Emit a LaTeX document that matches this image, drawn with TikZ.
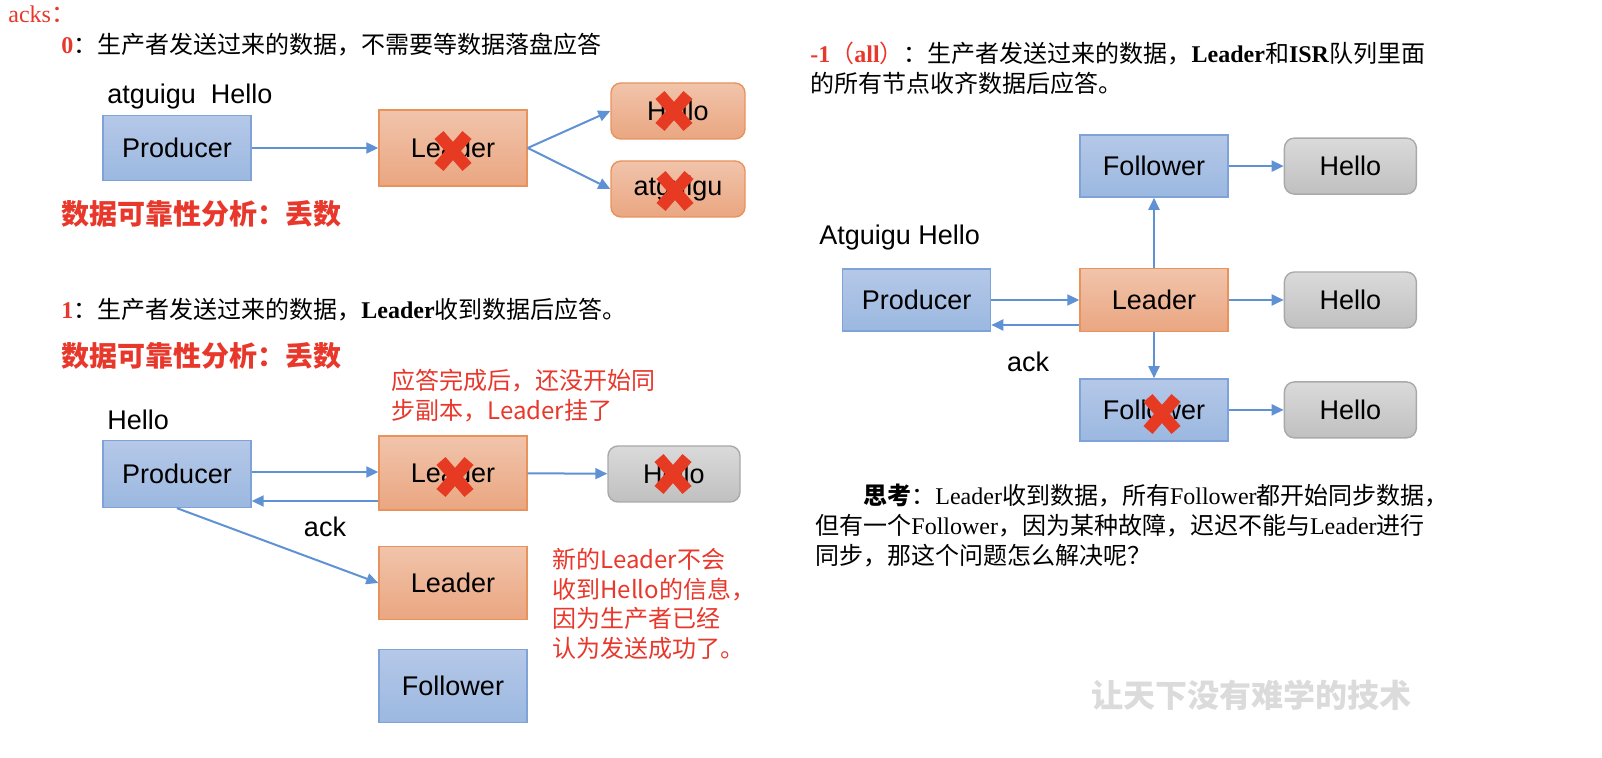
\documentclass[tikz,border=0pt]{standalone}
\usepackage{fontspec}
\setmainfont{Noto Sans CJK SC}
\newfontfamily\arl{Liberation Sans}
\newfontfamily\tnr{Liberation Serif}
\usepackage{xcolor}
\usetikzlibrary{positioning,arrows.meta,shapes.misc}

\definecolor{boxblueT}{HTML}{B5C8E8}
\definecolor{boxblueB}{HTML}{9BB8E0}
\definecolor{blueline}{HTML}{7FA3D8}
\definecolor{orangeT}{HTML}{F1C4AB}
\definecolor{orangeB}{HTML}{EAA681}
\definecolor{orangeline}{HTML}{E9935C}
\definecolor{grayT}{HTML}{DADADA}
\definecolor{grayB}{HTML}{C0C0C0}
\definecolor{grayline}{HTML}{A9A9A9}
\definecolor{arrowblue}{HTML}{5F92D4}
\definecolor{noteRed}{HTML}{E8372B}
\definecolor{crossRed}{HTML}{E63A23}

\begin{document}
\begin{tikzpicture}[x=0.5pt, y=-0.5pt,
    bluebox/.style={draw=blueline,line width=0.7pt,top color=boxblueT,bottom color=boxblueB,minimum width=74pt,minimum height=31pt,font=\arl\fontsize{13.5}{16}\selectfont},
    orangebox/.style={draw=orangeline,line width=0.7pt,top color=orangeT,bottom color=orangeB,minimum width=74pt,minimum height=37pt,font=\arl\fontsize{13.5}{16}\selectfont},
    orangeround/.style={orangebox,rounded corners=5pt,minimum width=67pt,minimum height=28pt},
    graybox/.style={draw=grayline,line width=0.7pt,top color=grayT,bottom color=grayB,rounded corners=5pt,minimum width=66pt,minimum height=28pt,font=\arl\fontsize{13.5}{16}\selectfont},
    lbl/.style={inner sep=0pt,font=\arl\fontsize{13.5}{16}\selectfont},
    head/.style={inner sep=0pt,anchor=west,font=\fontsize{12}{15}\selectfont},
    loss/.style={inner sep=0pt,anchor=west,text=noteRed,font=\bfseries\fontsize{14}{17}\selectfont},
    note/.style={inner sep=0pt,anchor=north west,align=left,text=noteRed,font=\fontsize{12}{14.8}\selectfont},
    crossx/.style={cross out,draw=crossRed,line width=6pt,minimum width=14pt,minimum height=16pt,inner sep=0pt,outer sep=0pt},
    flow/.style={draw=arrowblue,line width=1pt,-{Triangle[length=6pt,width=5.5pt]}},
    slogan/.style={inner sep=0pt,text=black!14,font=\bfseries\fontsize{16}{18}\selectfont}]
\useasboundingbox (0,0) rectangle (1602,758);

% acks = 0
\node[head,text=noteRed] (acks) at (8,14) {{\tnr acks}：};
\node[head] (h0) at (61,45) {\textcolor{noteRed}{\tnr\bfseries 0}：生产者发送过来的数据，不需要等数据落盘应答};
\node[lbl,anchor=west] (msg0) at (107,97) {atguigu\ \ Hello};
\node[bluebox,minimum height=32.5pt] (prod0) at (177,148) {Producer};
\node[orangebox,minimum height=38pt] (lead0) at (453,148) {Leader};
\node[orangeround] (hello0) at (678,111) {Hello};
\node[orangeround] (atg0) at (678,189) {atguigu};
\node[loss] (loss0) at (61,214) {数据可靠性分析：丢数};
\draw[flow] (prod0) -- (lead0);
\draw[flow] (lead0.east) -- (hello0.west);
\draw[flow] (lead0.east) -- (atg0.west);
\node[crossx] (x0) at (453,151) {};
\node[crossx] (x1) at (674,111) {};
\node[crossx] (x2) at (675,191) {};

% acks = 1
\node[head] (h1) at (61,310) {\textcolor{noteRed}{\tnr\bfseries 1}：生产者发送过来的数据，{\tnr\bfseries Leader}收到数据后应答。};
\node[loss] (loss1) at (61,356) {数据可靠性分析：丢数};
\node[note] (note1) at (391,369) {应答完成后，还没开始同\\步副本，Leader挂了};
\node[lbl,anchor=west] (msg1) at (107,420) {Hello};
\node[bluebox,minimum height=33.5pt] (prod1) at (177,474) {Producer};
\node[orangebox] (lead1) at (453,473) {Leader};
\node[graybox] (hello1) at (674,474) {Hello};
\node[lbl] (ack1) at (325,527) {ack};
\node[orangebox,minimum height=36.5pt] (lead1n) at (453,583) {Leader};
\node[bluebox,minimum height=36.5pt] (foll1) at (453,686) {Follower};
\node[note] (note2) at (552,548) {新的Leader不会\\收到Hello的信息，\\因为生产者已经\\认为发送成功了。};
\draw[flow] ([yshift=1pt]prod1.east) -- ([yshift=1pt]prod1.east -| lead1.west);
\draw[flow] ([yshift=-14pt]lead1.west) -- ([yshift=-14pt]lead1.west -| prod1.east);
\draw[flow] (lead1) -- (hello1);
\draw[flow] (prod1.south) -- (lead1n.west);
\node[crossx] (x3) at (455,477) {};
\node[crossx] (x4) at (673,474) {};

% acks = -1
\node[head,anchor=north west,align=left,font=\fontsize{12}{15}\selectfont] (hall) at (810,42) {\textcolor{noteRed}{{\tnr\bfseries -1}（{\tnr\bfseries all}）}：生产者发送过来的数据，{\tnr\bfseries Leader}和{\tnr\bfseries ISR}队列里面\\的所有节点收齐数据后应答。};
\node[lbl,anchor=west] (msgR) at (819,238) {Atguigu Hello};
\node[orangebox,minimum height=31.5pt] (leadR) at (1154,300) {Leader};
\node[bluebox,left=44pt of leadR] (prodR) {Producer};
\node[bluebox,above=35pt of leadR] (follT) {Follower};
\node[bluebox,below=23pt of leadR] (follB) {Follower};
\node[graybox,right=27.5pt of follT] (helloT) {Hello};
\node[graybox,right=27.5pt of leadR] (helloM) {Hello};
\node[graybox,right=27.5pt of follB] (helloB) {Hello};
\node[lbl] (ackR) at (1028,362) {ack};
\draw[flow] (leadR) -- (follT);
\draw[flow] (prodR) -- (leadR);
\draw[flow] ([yshift=-12.5pt]leadR.west) -- ([yshift=-12.5pt]leadR.west -| prodR.east);
\draw[flow] (leadR) -- (follB);
\draw[flow] (follT) -- (helloT);
\draw[flow] (leadR) -- (helloM);
\draw[flow] (follB) -- (helloB);
\node[crossx] (x5) at (1162,414) {};

\node[head,anchor=north west,align=left,font=\fontsize{12}{14.8}\selectfont] (think) at (815,484) {\hspace{2em}{\bfseries 思考}：{\tnr Leader}收到数据，所有{\tnr Follower}都开始同步数据，\\但有一个{\tnr Follower}，因为某种故障，迟迟不能与{\tnr Leader}进行\\同步，那这个问题怎么解决呢？};
\node[slogan] (motto) at (1251,695) {让天下没有难学的技术};
\end{tikzpicture}
\end{document}
